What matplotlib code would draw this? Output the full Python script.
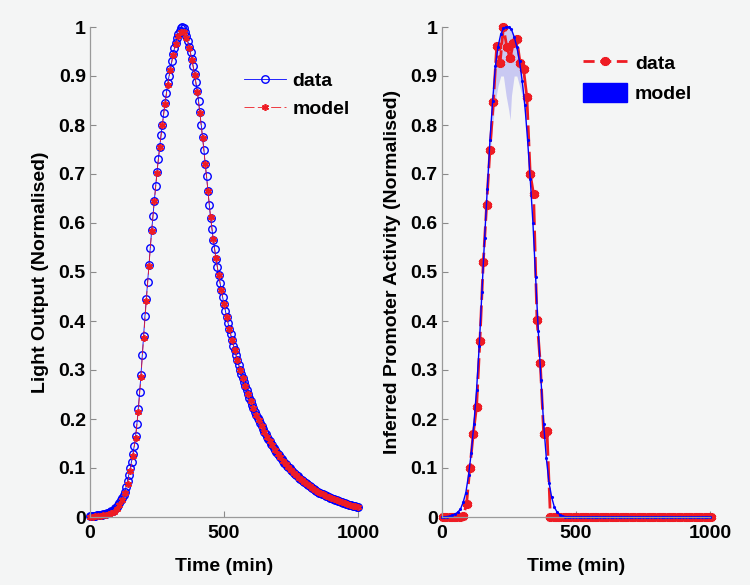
import numpy as np
import matplotlib
matplotlib.use("Agg")
import matplotlib.pyplot as plt
from matplotlib.lines import Line2D
from matplotlib.patches import Patch

# ---------------- data ----------------
# Left panel: light output, data every 5 min, model every 10 min
light_time = np.arange(0, 1001, 5)
light_data = [
    0.003, 0.003, 0.003, 0.003, 0.003, 0.004, 0.004, 0.004, 0.005, 0.005,
    0.006, 0.006, 0.007, 0.008, 0.009, 0.010, 0.012, 0.013, 0.015, 0.018,
    0.021, 0.025, 0.029, 0.034, 0.038, 0.044, 0.052, 0.062, 0.074, 0.086,
    0.099, 0.113, 0.128, 0.145, 0.165, 0.19, 0.22, 0.255, 0.29, 0.33,
    0.37, 0.41, 0.445, 0.48, 0.515, 0.55, 0.585, 0.615, 0.645, 0.675,
    0.705, 0.73, 0.755, 0.78, 0.8, 0.825, 0.845, 0.865, 0.885, 0.9,
    0.915, 0.93, 0.945, 0.957, 0.968, 0.977, 0.985, 0.992, 0.997, 1.0,
    0.997, 0.99, 0.982, 0.972, 0.96, 0.948, 0.935, 0.92, 0.905, 0.888,
    0.87, 0.85, 0.826, 0.80, 0.775, 0.75, 0.72, 0.695, 0.665, 0.637,
    0.61, 0.588, 0.566, 0.546, 0.527, 0.51, 0.494, 0.478, 0.463, 0.448,
    0.434, 0.421, 0.408, 0.396, 0.384, 0.373, 0.361, 0.35, 0.34, 0.33,
    0.32, 0.31, 0.301, 0.292, 0.283, 0.275, 0.267, 0.259, 0.251, 0.243,
    0.236, 0.229, 0.222, 0.215, 0.209, 0.203, 0.197, 0.191, 0.185, 0.18,
    0.174, 0.169, 0.164, 0.159, 0.155, 0.15, 0.146, 0.141, 0.137, 0.133,
    0.129, 0.126, 0.122, 0.118, 0.115, 0.111, 0.108, 0.105, 0.102, 0.099,
    0.096, 0.093, 0.09, 0.088, 0.085, 0.083, 0.08, 0.078, 0.075, 0.073,
    0.071, 0.069, 0.067, 0.065, 0.063, 0.061, 0.059, 0.057, 0.055, 0.054,
    0.052, 0.05, 0.049, 0.047, 0.046, 0.044, 0.043, 0.042, 0.04, 0.039,
    0.038, 0.037, 0.036, 0.035, 0.034, 0.033, 0.032, 0.031, 0.030, 0.029,
    0.028, 0.027, 0.026, 0.025, 0.025, 0.024, 0.023, 0.022, 0.022, 0.021,
    0.020,
]
model_time = np.arange(0, 1001, 10)
light_model = [
    0.001, 0.001, 0.002, 0.002, 0.003, 0.004, 0.005, 0.006, 0.008, 0.011,
    0.017, 0.025, 0.034, 0.048, 0.068, 0.094, 0.124, 0.162, 0.215, 0.285,
    0.365, 0.44, 0.512, 0.583, 0.645, 0.703, 0.755, 0.8, 0.843, 0.882,
    0.913, 0.942, 0.965, 0.982, 0.99, 0.99, 0.978, 0.958, 0.933, 0.903,
    0.868, 0.824, 0.774, 0.72, 0.666, 0.612, 0.567, 0.528, 0.494, 0.463,
    0.434, 0.408, 0.384, 0.361, 0.34, 0.32, 0.301, 0.283, 0.267, 0.251,
    0.236, 0.222, 0.209, 0.197, 0.185, 0.174, 0.164, 0.155, 0.146, 0.137,
    0.129, 0.122, 0.115, 0.108, 0.102, 0.096, 0.09, 0.085, 0.08, 0.075,
    0.071, 0.067, 0.063, 0.059, 0.055, 0.052, 0.049, 0.046, 0.043, 0.04,
    0.038, 0.036, 0.034, 0.032, 0.030, 0.028, 0.026, 0.025, 0.023, 0.022,
    0.020,
]

# Right panel: inferred promoter activity
prom_time = np.arange(5, 1006, 12.5)
prom_data = [
    0, 0, 0, 0, 0, 0, 0.002, 0.026, 0.10, 0.169,
    0.225, 0.36, 0.52, 0.637, 0.75, 0.846, 0.961, 0.926, 1.0, 0.96,
    0.936, 0.968, 0.975, 0.926, 0.914, 0.857, 0.70, 0.659, 0.403, 0.314,
    0.17, 0.175, 0, 0, 0, 0, 0, 0, 0, 0,
    0, 0, 0, 0, 0, 0, 0, 0, 0, 0,
    0, 0, 0, 0, 0, 0, 0, 0, 0, 0,
    0, 0, 0, 0, 0, 0, 0, 0, 0, 0,
    0, 0, 0, 0, 0, 0, 0, 0, 0, 0,
    0,
]
prom_model = [
    0.0, 0.0, 0.001, 0.002, 0.004, 0.006, 0.01, 0.016, 0.03, 0.05,
    0.085, 0.13, 0.19, 0.26, 0.35, 0.46, 0.57, 0.67, 0.77, 0.85,
    0.92, 0.96, 0.985, 0.997, 1.0, 1.0, 0.995, 0.98, 0.96, 0.93,
    0.89, 0.84, 0.77, 0.69, 0.6, 0.49, 0.38, 0.28, 0.19, 0.12,
    0.07, 0.04, 0.02, 0.01, 0.005, 0.002, 0.001, 0, 0, 0,
] + [0] * 51
band_time = [170, 180, 190, 200, 210, 220, 230, 240, 250, 255, 260, 270, 280, 290, 300, 310, 320]
band_lo = [0.67, 0.74, 0.8, 0.85, 0.88, 0.9, 0.9, 0.86, 0.83, 0.81, 0.86, 0.9, 0.9, 0.88, 0.86, 0.82, 0.77]
band_hi = [0.67, 0.77, 0.85, 0.92, 0.96, 0.985, 0.997, 1.0, 1.0, 0.998, 0.995, 0.98, 0.96, 0.93, 0.89, 0.84, 0.77]

# ---------------- style ----------------
bg = "#f4f5f5"
blue = "#0000ff"
red = "#ee1c24"
asterisk = (6, 2, 0)
plt.rcParams["font.family"] = ["Liberation Sans", "DejaVu Sans"]
plt.rcParams["font.weight"] = "bold"
plt.rcParams["axes.labelweight"] = "bold"

W, H = 750, 585
fig = plt.figure(figsize=(W / 100, H / 100), dpi=100, facecolor=bg)
y0, y1 = 517, 27
ax1 = fig.add_axes([90 / W, (H - y0) / H, 268 / W, (y0 - y1) / H])
ax2 = fig.add_axes([441.7 / W, (H - y0) / H, 268.3 / W, (y0 - y1) / H])

for ax in (ax1, ax2):
    ax.set_facecolor(bg)
    ax.set_xlim(0, 1000)
    ax.set_ylim(0, 1)
    ax.set_xticks([0, 500, 1000])
    ax.set_yticks(np.arange(0, 1.01, 0.1))
    ax.set_yticklabels(["0", "0.1", "0.2", "0.3", "0.4", "0.5", "0.6", "0.7", "0.8", "0.9", "1"])
    ax.tick_params(direction="in", length=4, width=0.8, color="#8a8a8a", labelsize=14)
    ax.tick_params(axis="x", pad=6)
    ax.tick_params(axis="y", pad=3)
    for s in ("top", "right"):
        ax.spines[s].set_visible(False)
    for s in ("left", "bottom"):
        ax.spines[s].set_color("#9a9a9a")
        ax.spines[s].set_linewidth(0.9)
    ax.set_xlabel("Time (min)", fontsize=14, fontweight="bold", labelpad=11)

# Left panel
ax1.plot(light_time, light_data, "-o", color=blue, lw=0.6, mfc="none", mec=blue, ms=5.4, mew=1.0,
         clip_on=False, label="data")
ax1.plot(model_time, light_model, "--", marker=asterisk, color=red, lw=0.6, ms=5, mew=1.2,
         dashes=(12, 4), clip_on=False, label="model")
ax1.set_ylabel("Light Output (Normalised)", fontsize=14, fontweight="bold", labelpad=7)
ax1.legend(loc="center left", bbox_to_anchor=(227 / W, 1 - 95 / H), bbox_transform=fig.transFigure,
           frameon=False, fontsize=14, handlelength=2.15, handletextpad=0.3, labelspacing=0.55)

# Right panel
ax2.fill_between(band_time, band_lo, band_hi, color="#c9c9f2", lw=0)
ax2.plot(prom_time, prom_data, "--", marker=asterisk, color=red, lw=2.0, ms=6.5, mew=2.6,
         dashes=(7.5, 2), clip_on=False)
ax2.plot(model_time, prom_model, ".-", color=blue, lw=1.0, ms=2.5, clip_on=False)
ax2.set_ylabel("Inferred Promoter Activity (Normalised)", fontsize=14, fontweight="bold", labelpad=7)
h_data = Line2D([], [], color=red, ls="--", lw=2.0, marker=asterisk, ms=6.5, mew=2.6, dashes=(4, 2))
h_model = Patch(facecolor=blue, edgecolor=blue)
ax2.legend([h_data, h_model], ["data", "model"], loc="center left", bbox_to_anchor=(565 / W, 1 - 78 / H),
           bbox_transform=fig.transFigure, frameon=False, fontsize=14, handlelength=2.3,
           handleheight=1.1, handletextpad=0.4, labelspacing=0.5)

fig.savefig("out.png", dpi=100, facecolor=bg)
